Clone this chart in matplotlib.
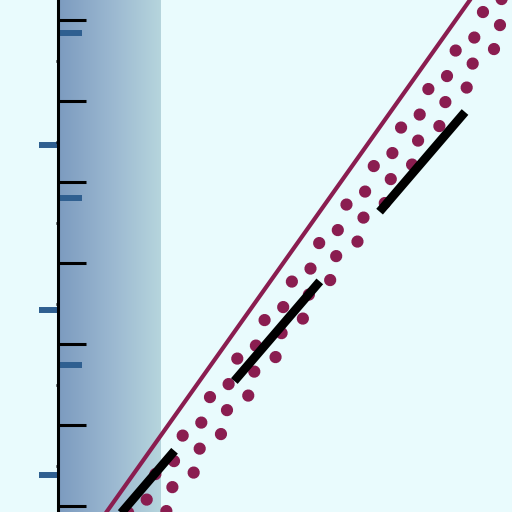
import numpy as np
import matplotlib
matplotlib.use("Agg")
import matplotlib.pyplot as plt
from matplotlib.ticker import MultipleLocator, FixedLocator
from matplotlib.colors import LinearSegmentedColormap

# ---- data (axis units) ----
y_limits = [-0.074, 6.247]
x_limits = [0.0, 5.605]
major_ticks = [0, 1, 2, 3, 4, 5, 6]
blue_in_ticks = [5.84, 3.80, 1.74]
blue_out_ticks = [4.457, 2.42, 0.383]

band_x = [0.025, 1.27]

solid_x = [0.46, 5.23]
solid_y = [-0.27, 6.45]

dotA_x = [5.247, 0.643]
dotA_y = [6.099, -0.395]
dotB_x = [5.486, 0.759]
dotB_y = [6.272, -0.395]
dotC_x = [5.457, 0.967]
dotC_y = [5.938, -0.395]
dotD_x = [5.383, 1.102]
dotD_y = [5.642, -0.395]

dash_x = [5.025, 0.494]
dash_y = [4.864, -0.42]

bg = "#e9fbfd"
maroon = "#8a1d50"
blue = "#2f5f90"

fig = plt.figure(figsize=(5.12, 5.12), dpi=100, facecolor=bg)
ax = fig.add_axes([58/512, 0, 454/512, 1])
ax.set_facecolor(bg)
ax.set_xlim(*x_limits)
ax.set_ylim(*y_limits)

# gradient band
cmap = LinearSegmentedColormap.from_list("band", ["#7d9cc0", "#9ab7d0", "#b6d5dd"])
ax.imshow(np.linspace(0, 1, 256)[None, :], cmap=cmap, aspect="auto",
          extent=[band_x[0], band_x[1], y_limits[0], y_limits[1]], zorder=0,
          interpolation="bilinear")

# lines
ax.plot(solid_x, solid_y, color=maroon, lw=3.0, solid_capstyle="butt", zorder=3)
dot_lw = 8.8
gap = 47.2 / (dot_lw * 100 / 72)
for xs, ys in [(dotA_x, dotA_y), (dotB_x, dotB_y), (dotC_x, dotC_y), (dotD_x, dotD_y)]:
    ax.plot(xs, ys, color=maroon, lw=dot_lw, linestyle=(0, (0.01, gap - 0.01)),
            dash_capstyle="round", zorder=3)
ax.plot(dash_x, dash_y, color="black", lw=6.3, linestyle=(0, (15.0, 10.5)),
        dash_capstyle="butt", zorder=4)

# spines
for s in ["top", "right", "bottom"]:
    ax.spines[s].set_visible(False)
ax.spines["left"].set_linewidth(2.2)
ax.spines["left"].set_color("black")
ax.spines["left"].set_zorder(5)

ax.set_xticks([])
ax.yaxis.set_major_locator(FixedLocator(major_ticks))
ax.yaxis.set_minor_locator(MultipleLocator(0.5))
ax.tick_params(axis="y", which="major", direction="in", length=20, width=2.2,
               color="black", labelleft=False)
ax.tick_params(axis="y", which="minor", direction="out", length=1.5, width=2,
               color="black")

sec = ax.secondary_yaxis("left")
sec.spines["left"].set_visible(False)
sec.yaxis.set_major_locator(FixedLocator(blue_in_ticks))
sec.yaxis.set_minor_locator(FixedLocator(blue_out_ticks))
sec.tick_params(axis="y", which="major", direction="in", length=17, width=4.3,
                color=blue, labelleft=False)
sec.tick_params(axis="y", which="minor", direction="out", length=14, width=4.3,
                color=blue)

fig.savefig("out.png", dpi=100, facecolor=bg)
